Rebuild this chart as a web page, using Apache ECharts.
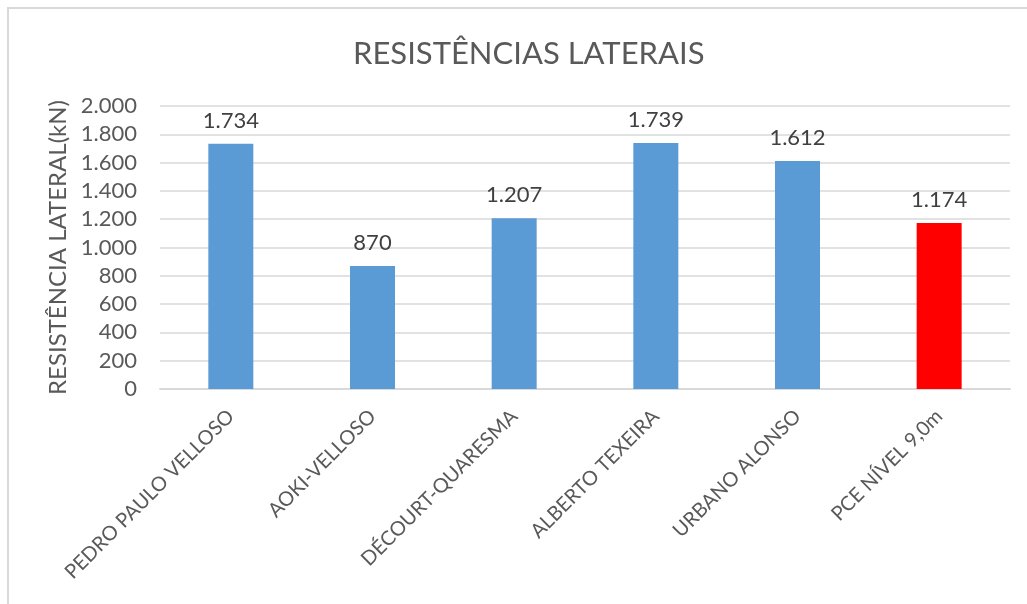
<!DOCTYPE html>
<html>
<head>
<meta charset="utf-8">
<script src="https://cdn.jsdelivr.net/npm/echarts@6/dist/echarts.min.js"></script>
<style>
  html, body { margin: 0; padding: 0; background: #fff; }
  #chart { width: 1027px; height: 604px; }
</style>
</head>
<body>
<div id="chart"></div>
<script>
// dados
const categorias = ['PEDRO PAULO VELLOSO', 'AOKI-VELLOSO', 'DÉCOURT-QUARESMA', 'ALBERTO TEXEIRA', 'URBANO ALONSO', 'PCE NÍVEL 9,0m'];
const valores = [1734, 870, 1207, 1739, 1612, 1174];
const cores = ['#5b9bd5', '#5b9bd5', '#5b9bd5', '#5b9bd5', '#5b9bd5', '#ff0000'];

const fonte = 'Lato, "Open Sans", sans-serif';

// 1734 -> 1.734
function fmt(v) {
  return String(v).replace(/\B(?=(\d{3})+(?!\d))/g, '.');
}

const myChart = echarts.init(document.getElementById('chart'));
const option = {
  animation: false,
  backgroundColor: '#fff',
  title: {
    text: 'RESISTÊNCIAS LATERAIS',
    left: 348,
    top: 33,
    textStyle: { fontFamily: fonte, fontSize: 31, fontWeight: 'normal', color: '#595959' }
  },
  graphic: [{
    type: 'rect',
    shape: { x: 8, y: 8, width: 1100, height: 700 },
    style: { fill: 'none', stroke: '#d9d9d9', lineWidth: 2 },
    silent: true
  }],
  grid: { left: 160, right: 17, top: 106, bottom: 215 },
  xAxis: {
    type: 'category',
    data: categorias,
    axisLine: { lineStyle: { color: '#d9d9d9', width: 2 } },
    axisTick: { show: false },
    axisLabel: {
      rotate: 45,
      margin: 24,
      fontFamily: fonte,
      fontSize: 20,
      color: '#595959'
    }
  },
  yAxis: {
    type: 'value',
    min: 0,
    max: 2000,
    interval: 200,
    name: 'RESISTÊNCIA LATERAL(kN)',
    nameLocation: 'middle',
    nameGap: 86,
    nameTextStyle: { fontFamily: fonte, fontSize: 24, color: '#595959' },
    axisLine: { show: false },
    axisTick: { show: false },
    splitLine: { lineStyle: { color: '#d9d9d9', width: 1.5 } },
    axisLabel: {
      margin: 23,
      fontFamily: fonte,
      fontSize: 22,
      color: '#595959',
      formatter: fmt
    }
  },
  series: [{
    type: 'bar',
    barWidth: 45,
    data: valores.map((v, i) => ({ value: v, itemStyle: { color: cores[i] } })),
    label: {
      show: true,
      position: 'top',
      distance: 12,
      fontFamily: fonte,
      fontSize: 22,
      color: '#404040',
      formatter: p => fmt(p.value)
    }
  }]
};
myChart.setOption(option);
</script>
</body>
</html>
